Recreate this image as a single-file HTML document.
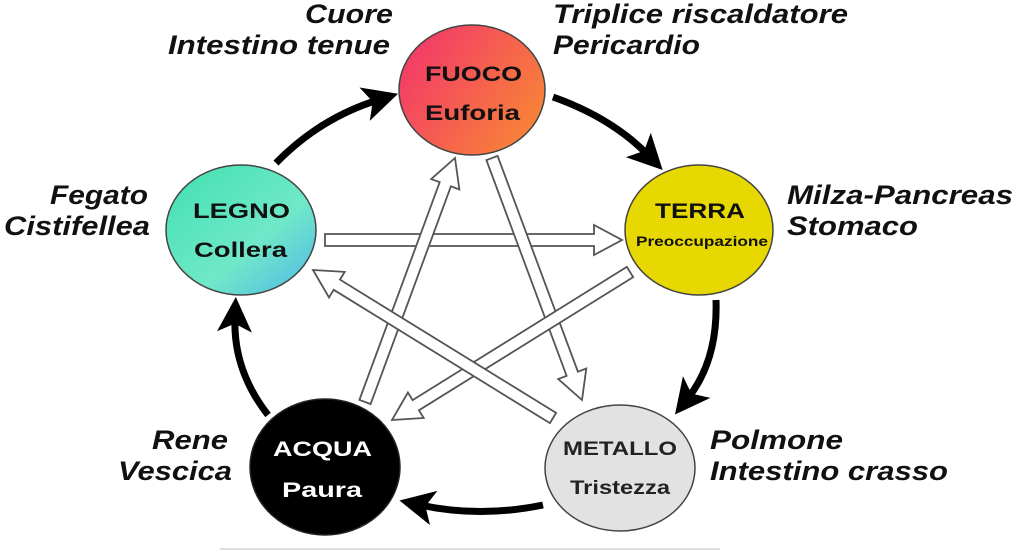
<!DOCTYPE html>
<html><head><meta charset="utf-8"><style>
html,body{margin:0;padding:0;background:#fff;width:1024px;height:552px;overflow:hidden}
svg{display:block}
.lab{font-family:"Liberation Sans",sans-serif;font-weight:bold;font-style:italic;font-size:27px;fill:#111}
.nd{font-family:"Liberation Sans",sans-serif;font-weight:bold;font-size:21px;text-anchor:start}
</style></head><body>
<svg id="s" width="1024" height="552" viewBox="0 0 1024 552" xmlns="http://www.w3.org/2000/svg">
<defs>
<linearGradient id="gF" x1="0" y1="0" x2="1" y2="0.6"><stop offset="0" stop-color="#f2306e"/><stop offset="1" stop-color="#f8803a"/></linearGradient>
<linearGradient id="gL" x1="0" y1="0" x2="1" y2="1"><stop offset="0" stop-color="#40e0b0"/><stop offset="0.6" stop-color="#70e8c8"/><stop offset="1" stop-color="#50b8e8"/></linearGradient>
<marker id="ah" markerWidth="5" markerHeight="5" refX="2" refY="2.5" orient="auto" markerUnits="strokeWidth"><path d="M0,0 L5,2.5 L0,5 L1.2,2.5 z" fill="#000"/></marker>
</defs>
<line x1="220" y1="549" x2="720" y2="549" stroke="#ddd" stroke-width="2"/>
<g fill="none" stroke="#000" stroke-width="7">
<path d="M276,163 Q320,118 378,100" marker-end="url(#ah)"/>
<path d="M553,97 Q612,118 648,155" marker-end="url(#ah)"/>
<path d="M716,300 Q718,360 688,398" marker-end="url(#ah)"/>
<path d="M543,505 Q480,518 420,505" marker-end="url(#ah)"/>
<path d="M268,415 Q233,370 235,318" marker-end="url(#ah)"/>
</g>
<g id="ha"></g>
<ellipse cx="472" cy="90" rx="73" ry="65" fill="url(#gF)" stroke="#444" stroke-width="1.5"/>
<ellipse cx="241" cy="230" rx="75" ry="65" fill="url(#gL)" stroke="#444" stroke-width="1.5"/>
<ellipse cx="699" cy="230" rx="74" ry="65" fill="#e6d800" stroke="#444" stroke-width="1.5"/>
<ellipse cx="620" cy="468" rx="75" ry="63" fill="#e2e2e2" stroke="#444" stroke-width="1.5"/>
<ellipse cx="325" cy="467" rx="75" ry="68" fill="#000" stroke="#222" stroke-width="1.5"/>
<g lengthAdjust="spacingAndGlyphs">
<text class="nd" x="425" y="81" fill="#111" textLength="97" lengthAdjust="spacingAndGlyphs">FUOCO</text>
<text class="nd" x="425" y="120" fill="#111" textLength="95" lengthAdjust="spacingAndGlyphs">Euforia</text>
<text class="nd" x="193" y="218" fill="#111" textLength="97" lengthAdjust="spacingAndGlyphs">LEGNO</text>
<text class="nd" x="194" y="257" fill="#111" textLength="93" lengthAdjust="spacingAndGlyphs">Collera</text>
<text class="nd" x="655" y="218" fill="#111" textLength="90" lengthAdjust="spacingAndGlyphs">TERRA</text>
<text class="nd" x="636" y="246" fill="#111" style="font-size:14px" textLength="132" lengthAdjust="spacingAndGlyphs">Preoccupazione</text>
<text class="nd" x="563" y="455" fill="#222" style="font-size:19px" textLength="114" lengthAdjust="spacingAndGlyphs">METALLO</text>
<text class="nd" x="570" y="494" fill="#222" style="font-size:19px" textLength="100" lengthAdjust="spacingAndGlyphs">Tristezza</text>
<text class="nd" x="273" y="456" fill="#fff" textLength="99" lengthAdjust="spacingAndGlyphs">ACQUA</text>
<text class="nd" x="282" y="497" fill="#fff" textLength="80" lengthAdjust="spacingAndGlyphs">Paura</text>
</g>
<text class="lab" x="305" y="23" textLength="88" lengthAdjust="spacingAndGlyphs">Cuore</text>
<text class="lab" x="168" y="54" textLength="222" lengthAdjust="spacingAndGlyphs">Intestino tenue</text>
<text class="lab" x="553" y="23" textLength="295" lengthAdjust="spacingAndGlyphs">Triplice riscaldatore</text>
<text class="lab" x="553" y="54" textLength="147" lengthAdjust="spacingAndGlyphs">Pericardio</text>
<text class="lab" x="50" y="204" textLength="98" lengthAdjust="spacingAndGlyphs">Fegato</text>
<text class="lab" x="4" y="235" textLength="146" lengthAdjust="spacingAndGlyphs">Cistifellea</text>
<text class="lab" x="787" y="204" textLength="226" lengthAdjust="spacingAndGlyphs">Milza-Pancreas</text>
<text class="lab" x="787" y="235" textLength="131" lengthAdjust="spacingAndGlyphs">Stomaco</text>
<text class="lab" x="152" y="449" textLength="76" lengthAdjust="spacingAndGlyphs">Rene</text>
<text class="lab" x="118" y="480" textLength="114" lengthAdjust="spacingAndGlyphs">Vescica</text>
<text class="lab" x="710" y="449" textLength="133" lengthAdjust="spacingAndGlyphs">Polmone</text>
<text class="lab" x="710" y="480" textLength="238" lengthAdjust="spacingAndGlyphs">Intestino crasso</text>
</svg>
<script>
(function(){
var g=document.getElementById('ha');
var arr=[[325,240,622,240],[365,402,455,158],[492,158,582,400],[630,272,392,420],[553,418,313,270]];
arr.forEach(function(a){
var x1=a[0],y1=a[1],x2=a[2],y2=a[3],dx=x2-x1,dy=y2-y1,L=Math.hypot(dx,dy),ux=dx/L,uy=dy/L,nx=-uy,ny=ux;
var w=6,hw=15,hl=28;
var bx=x2-ux*hl,by=y2-uy*hl;
var p=[[x1+nx*w,y1+ny*w],[bx+nx*w,by+ny*w],[bx+nx*hw,by+ny*hw],[x2,y2],[bx-nx*hw,by-ny*hw],[bx-nx*w,by-ny*w],[x1-nx*w,y1-ny*w]];
var e=document.createElementNS('http://www.w3.org/2000/svg','polygon');
e.setAttribute('points',p.map(function(q){return q[0].toFixed(1)+','+q[1].toFixed(1)}).join(' '));
e.setAttribute('fill','#fff');e.setAttribute('stroke','#555');e.setAttribute('stroke-width','1.8');
g.appendChild(e);
});
})();
</script>
</body></html>
